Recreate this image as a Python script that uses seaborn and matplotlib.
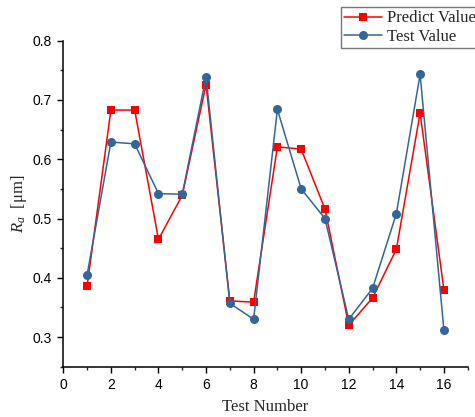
import numpy as np
import pandas as pd
import matplotlib
matplotlib.use("Agg")
import matplotlib.pyplot as plt
import seaborn as sns
from matplotlib.ticker import MultipleLocator

# deney numaralari ve olculen / tahmin edilen Ra degerleri
test_no = list(range(1, 17))
predict_vals = [0.386, 0.683, 0.683, 0.465, 0.539, 0.726, 0.361, 0.359,
                0.621, 0.617, 0.516, 0.320, 0.366, 0.448, 0.678, 0.380]
test_vals = [0.405, 0.629, 0.626, 0.542, 0.541, 0.739, 0.357, 0.330,
             0.684, 0.550, 0.500, 0.330, 0.382, 0.508, 0.743, 0.312]
series_names = ["Predict Value", "Test Value"]

df = pd.DataFrame({
    "Test": test_no * 2,
    "Ra": predict_vals + test_vals,
    "Seri": [series_names[0]] * 16 + [series_names[1]] * 16,
})

sns.set_style("ticks")
plt.rcParams["font.family"] = ["Liberation Sans", "DejaVu Sans"]
plt.rcParams["mathtext.fontset"] = "custom"
plt.rcParams["mathtext.it"] = "Liberation Serif:italic"
plt.rcParams["mathtext.rm"] = "Liberation Serif"

fig = plt.figure(figsize=(4.75, 4.17), dpi=100)
ax = fig.add_axes([0.1333, 0.1206, 0.8513, 0.7818])

sns.lineplot(data=df, x="Test", y="Ra", hue="Seri", style="Seri",
             hue_order=series_names, style_order=series_names,
             palette={"Predict Value": "#ff0000", "Test Value": "#336699"},
             markers={"Predict Value": "s", "Test Value": "o"},
             dashes=False, markersize=6.5, markeredgewidth=0,
             linewidth=1.1, legend=False, ax=ax)

for line, name in zip(ax.lines, series_names):
    line.set_label(name)
    if name == "Predict Value":
        line.set_markersize(6)

ax.set_xlim(0, 17)
ax.set_ylim(0.25, 0.8)
ax.xaxis.set_major_locator(MultipleLocator(2))
ax.xaxis.set_minor_locator(MultipleLocator(1))
ax.yaxis.set_major_locator(MultipleLocator(0.1))
ax.yaxis.set_minor_locator(MultipleLocator(0.05))
ax.set_yticks([0.3, 0.4, 0.5, 0.6, 0.7, 0.8])
ax.tick_params(which="major", direction="out", length=4.5, width=1, labelsize=10, colors="black")
ax.tick_params(which="minor", direction="out", length=2.5, width=1)

for side in ["top", "right"]:
    ax.spines[side].set_visible(False)
for side in ["left", "bottom"]:
    ax.spines[side].set_linewidth(1.1)
    ax.spines[side].set_color("black")

ax.set_xlabel("Test Number", fontsize=12, family="Liberation Serif", labelpad=5)
ax.set_ylabel(r"$R_a$  [$\mathrm{\mu m}$]", fontsize=12, family="Liberation Serif", labelpad=3)

leg = fig.legend(loc="upper left", bbox_to_anchor=(340.7 / 475, 1 - 7 / 417),
                 prop={"family": "Liberation Serif", "size": 12},
                 frameon=True, fancybox=False, edgecolor="#555555",
                 handlelength=2.3, handletextpad=0.25, borderpad=0.2,
                 labelspacing=0.15, borderaxespad=0)
leg.get_frame().set_linewidth(1.0)

plt.savefig("out.png", dpi=100)
